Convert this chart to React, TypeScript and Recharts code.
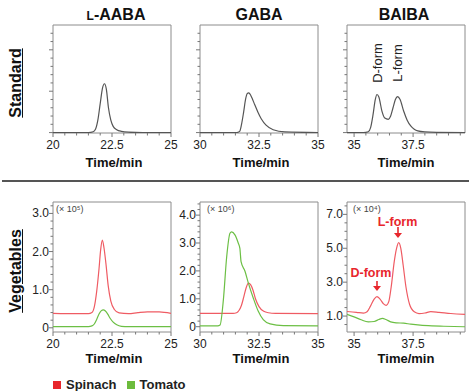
import React from "react";
import { LineChart, Line, XAxis, YAxis, ReferenceArea } from "recharts";

// ---- data ----
// Standard (top row), arbitrary units
const aabaStdTime = [20, 21.5, 21.7, 21.8, 21.9, 22.0, 22.1, 22.18, 22.26, 22.35, 22.45, 22.55, 22.7, 22.9, 23.2, 23.8, 25];
const aabaStdValue = [0, 0, 0.02, 0.08, 0.3, 0.7, 1.08, 1.18, 1.05, 0.6, 0.3, 0.15, 0.07, 0.03, 0.01, 0, 0];

const gabaStdTime = [30, 31.55, 31.68, 31.76, 31.85, 31.93, 32.0, 32.06, 32.12, 32.2, 32.3, 32.45, 32.6, 32.8, 33.1, 33.6, 35];
const gabaStdValue = [0, 0, 0.03, 0.2, 0.5, 0.8, 0.94, 0.96, 0.93, 0.84, 0.7, 0.5, 0.33, 0.18, 0.07, 0.015, 0];

const baibaStdTime = [34.7, 35.4, 35.6, 35.7, 35.8, 35.9, 35.97, 36.05, 36.18, 36.3, 36.45, 36.55, 36.65, 36.75, 36.84, 36.95, 37.1, 37.25, 37.4, 37.55, 37.7, 38.0, 38.5, 39.7];
const baibaStdValue = [0, 0, 0.02, 0.12, 0.42, 0.8, 0.92, 0.86, 0.52, 0.35, 0.32, 0.4, 0.6, 0.8, 0.87, 0.8, 0.52, 0.3, 0.16, 0.08, 0.04, 0.015, 0.005, 0];

// Vegetables (bottom row)
const aabaSpinachTime = [20, 21.0, 21.5, 21.65, 21.75, 21.85, 21.95, 22.02, 22.09, 22.16, 22.24, 22.34, 22.45, 22.6, 22.8, 23.2, 23.6, 24.0, 24.5, 25];
const aabaSpinachValue = [0.38, 0.37, 0.37, 0.4, 0.55, 0.95, 1.55, 2.05, 2.3, 2.1, 1.7, 1.1, 0.7, 0.48, 0.39, 0.37, 0.4, 0.42, 0.42, 0.38];
const aabaTomatoTime = [20, 21.5, 21.65, 21.75, 21.85, 21.95, 22.05, 22.13, 22.22, 22.32, 22.42, 22.55, 22.7, 22.9, 23.2, 25];
const aabaTomatoValue = [0.03, 0.03, 0.05, 0.1, 0.22, 0.36, 0.45, 0.47, 0.44, 0.36, 0.25, 0.15, 0.08, 0.04, 0.03, 0.03];

const gabaSpinachTime = [30, 31.4, 31.55, 31.65, 31.75, 31.85, 31.95, 32.05, 32.15, 32.25, 32.35, 32.5, 32.7, 32.9, 33.2, 35];
const gabaSpinachValue = [0.48, 0.48, 0.5, 0.58, 0.75, 1.05, 1.38, 1.56, 1.5, 1.3, 1.0, 0.72, 0.55, 0.5, 0.48, 0.47];
const gabaTomatoTime = [30, 30.75, 30.85, 30.99, 31.13, 31.27, 31.34, 31.48, 31.62, 31.69, 31.74, 31.91, 32.05, 32.26, 32.47, 32.68, 32.97, 33.53, 35];
const gabaTomatoValue = [0.03, 0.03, 0.06, 0.96, 2.5, 3.35, 3.4, 3.29, 3.0, 2.81, 2.33, 1.98, 1.56, 1.02, 0.55, 0.25, 0.1, 0.04, 0.03];

const baibaSpinachTime = [34.7, 35.1, 35.4, 35.55, 35.7, 35.85, 35.97, 36.1, 36.25, 36.36, 36.47, 36.58, 36.7, 36.8, 36.89, 36.98, 37.08, 37.2, 37.35, 37.55, 37.75, 38.0, 38.25, 38.6, 39.1, 39.7];
const baibaSpinachValue = [1.27, 1.22, 1.17, 1.25, 1.6, 2.0, 2.15, 2.0, 1.72, 1.63, 1.85, 2.8, 4.2, 5.0, 5.33, 5.0, 4.0, 2.7, 1.7, 1.25, 1.15, 1.18, 1.26, 1.22, 1.15, 1.1];
const baibaTomatoTime = [34.7, 35.0, 35.3, 35.6, 35.85, 36.05, 36.2, 36.35, 36.55, 36.8, 37.1, 37.4, 37.8, 38.3, 38.8, 39.7];
const baibaTomatoValue = [1.1, 0.95, 0.78, 0.66, 0.68, 0.8, 0.86, 0.8, 0.66, 0.6, 0.58, 0.52, 0.46, 0.42, 0.4, 0.37];

// ---- ticks ----
const aabaXTicks = [20, 20.5, 21, 21.5, 22, 22.5, 23, 23.5, 24, 24.5, 25];
const gabaXTicks = [30, 30.5, 31, 31.5, 32, 32.5, 33, 33.5, 34, 34.5, 35];
const baibaXTicks = [35, 35.5, 36, 36.5, 37, 37.5, 38, 38.5, 39, 39.5];
const aabaXLabels = ["20", "22.5", "25"];
const gabaXLabels = ["30", "32.5", "35"];
const baibaXLabels = ["35", "37.5"];

const stdYTicks = [0, 0.2, 0.4, 0.6, 0.8, 1, 1.2, 1.4, 1.6, 1.8, 2, 2.2, 2.4];
const stdYLabels = ["0", "1", "2"];

const aabaYTicks = [0, 0.2, 0.4, 0.6, 0.8, 1, 1.2, 1.4, 1.6, 1.8, 2, 2.2, 2.4, 2.6, 2.8, 3, 3.2];
const aabaYLabels = ["0", "1.0", "2.0", "3.0"];
const gabaYTicks = [0, 0.2, 0.4, 0.6, 0.8, 1, 1.2, 1.4, 1.6, 1.8, 2, 2.2, 2.4, 2.6, 2.8, 3, 3.2, 3.4, 3.6, 3.8, 4, 4.2, 4.4];
const gabaYLabels = ["0", "1.0", "2.0", "3.0", "4.0"];
const baibaYTicks = [0.5, 1, 1.5, 2, 2.5, 3, 3.5, 4, 4.5, 5, 5.5, 6, 6.5, 7, 7.5];
const baibaYLabels = ["1.0", "3.0", "5.0", "7.0"];

const SPINACH = "#ef5b63";
const TOMATO = "#6cbf45";
const STD = "#555555";
const FONT = "'Liberation Sans', Arial, Helvetica, sans-serif";

const toRows = (t: number[], v: number[]) => t.map((x, i) => ({ t: x, v: v[i] }));

const findLabel = (value: number, labels: string[]) =>
  labels.find((l) => Math.abs(parseFloat(l) - value) < 1e-6);

const XTick = (props: any) => {
  const { x, y, payload, labels } = props;
  const text = findLabel(payload.value, labels);
  return (
    <g>
      <line x1={x} x2={x} y1={y} y2={y + (text ? 4 : 2.5)} stroke="#777" />
      {text && (
        <text x={x} y={y + 16} textAnchor="middle" fontSize={12} fill="#222">
          {text}
        </text>
      )}
    </g>
  );
};

const YTick = (props: any) => {
  const { x, y, payload, labels, showText } = props;
  const text = findLabel(payload.value, labels);
  return (
    <g>
      <line x1={x} x2={x - (text ? 4 : 2.5)} y1={y} y2={y} stroke="#777" />
      {showText && text && (
        <text x={x - 4} y={y + 4} textAnchor="end" fontSize={12} fill="#222">
          {text}
        </text>
      )}
    </g>
  );
};

interface Series {
  rows: { t: number; v: number }[];
  color: string;
}

interface PanelProps {
  left: number;
  top: number;
  w: number;
  h: number;
  xDomain: [number, number];
  xTicks: number[];
  xLabels: string[];
  yDomain: [number, number];
  yTicks: number[];
  yLabels: string[];
  showYText: boolean;
  series: Series[];
}

const AXW = 40;
const AXH = 22;
const RM = 12;

const Panel: React.FC<PanelProps> = (p) => (
  <div style={{ position: "absolute", left: p.left - AXW, top: p.top - 2 }}>
    <LineChart
      width={AXW + p.w + RM}
      height={2 + p.h + AXH}
      margin={{ top: 2, right: RM, left: 0, bottom: 0 }}
    >
      <XAxis
        type="number"
        dataKey="t"
        domain={p.xDomain}
        allowDataOverflow
        ticks={p.xTicks}
        interval={0}
        tickSize={0}
        tickMargin={0}
        axisLine={false}
        tickLine={false}
        height={AXH}
        tick={(tp: any) => <XTick {...tp} labels={p.xLabels} />}
      />
      <YAxis
        type="number"
        domain={p.yDomain}
        allowDataOverflow
        ticks={p.yTicks}
        interval={0}
        tickSize={0}
        tickMargin={0}
        axisLine={false}
        tickLine={false}
        width={AXW}
        tick={(tp: any) => <YTick {...tp} labels={p.yLabels} showText={p.showYText} />}
      />
      <ReferenceArea
        x1={p.xDomain[0]}
        x2={p.xDomain[1]}
        y1={p.yDomain[0]}
        y2={p.yDomain[1]}
        fill="none"
        stroke="#8c8c8c"
        strokeWidth={1}
        ifOverflow="visible"
      />
      {p.series.map((s, i) => (
        <Line
          key={i}
          data={s.rows}
          dataKey="v"
          type="monotone"
          stroke={s.color}
          strokeWidth={1.2}
          dot={false}
          activeDot={false}
          isAnimationActive={false}
        />
      ))}
    </LineChart>
  </div>
);

const Txt: React.FC<{ x: number; y: number; rotate?: boolean; style?: React.CSSProperties; children: React.ReactNode }> = ({
  x,
  y,
  rotate,
  style,
  children,
}) => (
  <div
    style={{
      position: "absolute",
      left: x,
      top: y,
      whiteSpace: "nowrap",
      transform: `translate(-50%, -50%)${rotate ? " rotate(-90deg)" : ""}`,
      ...style,
    }}
  >
    {children}
  </div>
);

const Arrow: React.FC<{ x: number; y1: number; y2: number }> = ({ x, y1, y2 }) => (
  <svg style={{ position: "absolute", left: x - 4, top: y1, overflow: "visible" }} width={8} height={y2 - y1}>
    <line x1={4} x2={4} y1={0} y2={y2 - y1 - 4} stroke="#e8262c" strokeWidth={1.6} />
    <polygon points={`0,${y2 - y1 - 5} 8,${y2 - y1 - 5} 4,${y2 - y1}`} fill="#e8262c" />
  </svg>
);

const cols = [53, 200, 347];
const PW = 118;

const App: React.FC = () => {
  const titleStyle: React.CSSProperties = { fontWeight: "bold", fontSize: 16, color: "#111" };
  const timeStyle: React.CSSProperties = { fontWeight: "bold", fontSize: 13, color: "#111" };
  const rowStyle: React.CSSProperties = { fontWeight: "bold", fontSize: 16, color: "#111", textDecoration: "underline" };
  const expStyle: React.CSSProperties = { fontSize: 9, color: "#444" };

  return (
    <div
      style={{
        position: "absolute",
        left: 0,
        top: 0,
        width: 469,
        height: 391,
        background: "#fff",
        fontFamily: FONT,
        overflow: "hidden",
      }}
    >
      {/* titles */}
      <Txt x={116} y={15} style={titleStyle}>
        <span style={{ fontSize: 12 }}>L</span>-AABA
      </Txt>
      <Txt x={259} y={15} style={titleStyle}>GABA</Txt>
      <Txt x={404} y={15} style={titleStyle}>BAIBA</Txt>

      <Txt x={16} y={83} rotate style={rowStyle}>Standard</Txt>
      <Txt x={16} y={271} rotate style={rowStyle}>Vegetables</Txt>

      {/* top row */}
      <Panel left={cols[0]} top={25} w={PW} h={108} xDomain={[20, 25]} xTicks={aabaXTicks} xLabels={aabaXLabels}
        yDomain={[-0.01, 2.6]} yTicks={stdYTicks} yLabels={stdYLabels} showYText={false}
        series={[{ rows: toRows(aabaStdTime, aabaStdValue), color: STD }]} />
      <Panel left={cols[1]} top={25} w={PW} h={108} xDomain={[30, 35]} xTicks={gabaXTicks} xLabels={gabaXLabels}
        yDomain={[-0.01, 2.6]} yTicks={stdYTicks} yLabels={stdYLabels} showYText={false}
        series={[{ rows: toRows(gabaStdTime, gabaStdValue), color: STD }]} />
      <Panel left={cols[2]} top={25} w={PW} h={108} xDomain={[34.7, 39.7]} xTicks={baibaXTicks} xLabels={baibaXLabels}
        yDomain={[-0.01, 2.6]} yTicks={stdYTicks} yLabels={stdYLabels} showYText={false}
        series={[{ rows: toRows(baibaStdTime, baibaStdValue), color: STD }]} />

      <Txt x={377} y={63} rotate style={{ fontSize: 13, color: "#222" }}>D-form</Txt>
      <Txt x={397} y={63} rotate style={{ fontSize: 13, color: "#222" }}>L-form</Txt>

      <Txt x={114} y={162} style={timeStyle}>Time/min</Txt>
      <Txt x={261} y={162} style={timeStyle}>Time/min</Txt>
      <Txt x={406} y={162} style={timeStyle}>Time/min</Txt>

      {/* divider */}
      <div style={{ position: "absolute", left: 2, top: 180, width: 467, height: 2, background: "#555" }} />

      {/* bottom row */}
      <Panel left={cols[0]} top={202} w={PW} h={130} xDomain={[20, 25]} xTicks={aabaXTicks} xLabels={aabaXLabels}
        yDomain={[-0.11, 3.3]} yTicks={aabaYTicks} yLabels={aabaYLabels} showYText
        series={[
          { rows: toRows(aabaSpinachTime, aabaSpinachValue), color: SPINACH },
          { rows: toRows(aabaTomatoTime, aabaTomatoValue), color: TOMATO },
        ]} />
      <Panel left={cols[1]} top={202} w={PW} h={130} xDomain={[30, 35]} xTicks={gabaXTicks} xLabels={gabaXLabels}
        yDomain={[-0.19, 4.47]} yTicks={gabaYTicks} yLabels={gabaYLabels} showYText
        series={[
          { rows: toRows(gabaSpinachTime, gabaSpinachValue), color: SPINACH },
          { rows: toRows(gabaTomatoTime, gabaTomatoValue), color: TOMATO },
        ]} />
      <Panel left={cols[2]} top={202} w={PW} h={130} xDomain={[34.7, 39.7]} xTicks={baibaXTicks} xLabels={baibaXLabels}
        yDomain={[0.06, 7.73]} yTicks={baibaYTicks} yLabels={baibaYLabels} showYText
        series={[
          { rows: toRows(baibaSpinachTime, baibaSpinachValue), color: SPINACH },
          { rows: toRows(baibaTomatoTime, baibaTomatoValue), color: TOMATO },
        ]} />

      <div style={{ position: "absolute", left: 56, top: 204, ...expStyle }}>(× 10⁵)</div>
      <div style={{ position: "absolute", left: 207, top: 204, ...expStyle }}>(× 10⁶)</div>
      <div style={{ position: "absolute", left: 353, top: 204, ...expStyle }}>(× 10⁴)</div>

      <Txt x={397.5} y={221.5} style={{ fontSize: 12.5, fontWeight: "bold", color: "#e8262c" }}>L-form</Txt>
      <Arrow x={398} y1={227} y2={238} />
      <Txt x={371} y={273} style={{ fontSize: 12.5, fontWeight: "bold", color: "#e8262c" }}>D-form</Txt>
      <Arrow x={377} y1={281} y2={291} />

      <Txt x={114} y={358} style={timeStyle}>Time/min</Txt>
      <Txt x={261} y={358} style={timeStyle}>Time/min</Txt>
      <Txt x={406} y={358} style={timeStyle}>Time/min</Txt>

      {/* legend */}
      <div style={{ position: "absolute", left: 53, top: 377, display: "flex", alignItems: "center", fontSize: 13, fontWeight: "bold", color: "#222" }}>
        <span style={{ width: 8, height: 8, background: "#e8262c", display: "inline-block", marginRight: 5 }} />
        <span style={{ marginRight: 10 }}>Spinach</span>
        <span style={{ width: 8, height: 8, background: "#6cbb3c", display: "inline-block", marginRight: 5 }} />
        <span>Tomato</span>
      </div>
    </div>
  );
};

export default App;
